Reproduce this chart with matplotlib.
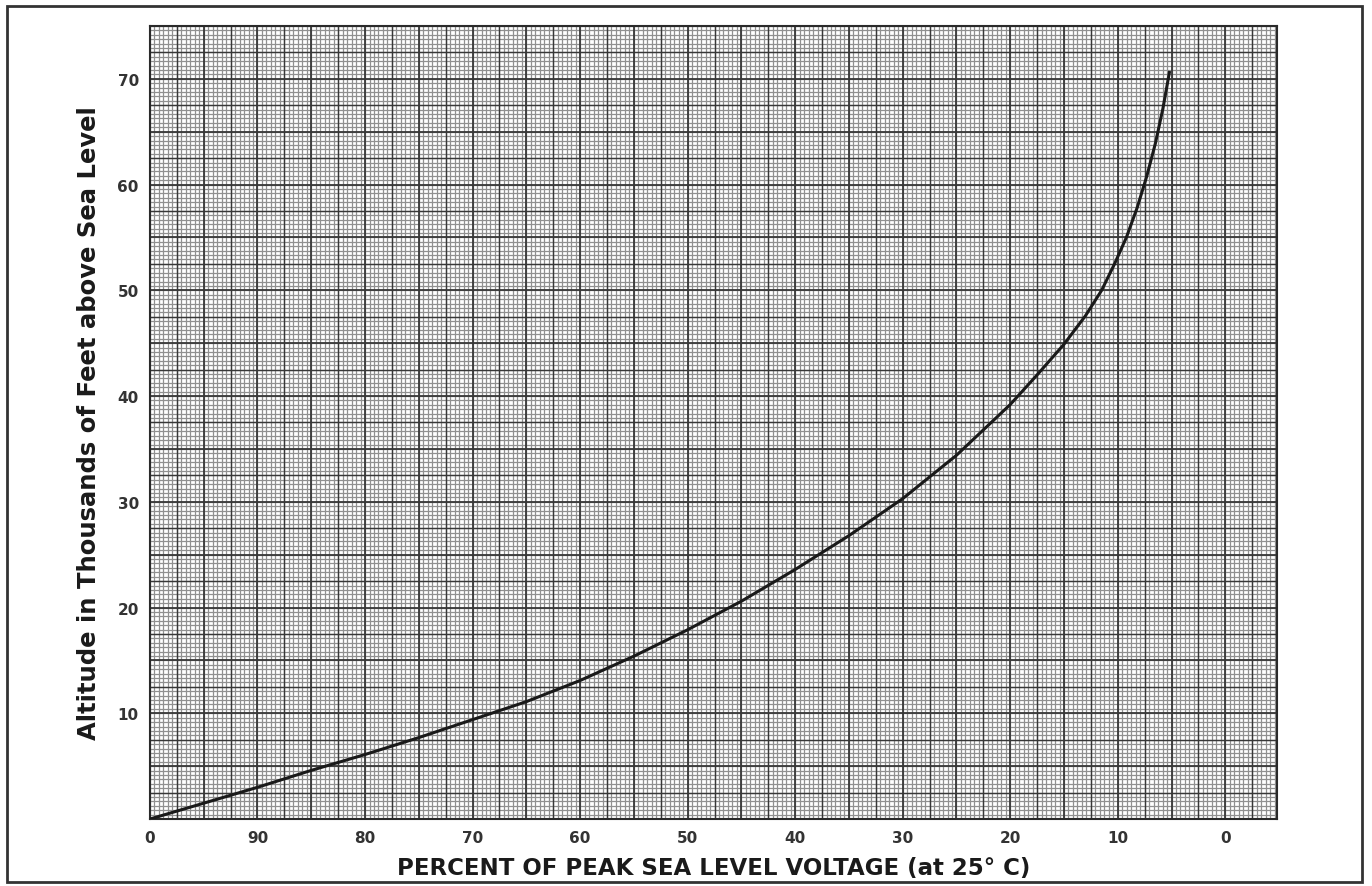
import matplotlib

matplotlib.use("Agg")
import matplotlib.pyplot as plt
import numpy as np
from matplotlib.patches import Rectangle

INK = "#1a1a1a"

# curve: percent of peak voltage vs altitude (thousands of ft)
percent = [100, 95, 90, 85, 80, 75, 70, 65, 60, 55, 50, 45, 40, 35, 30,
           25, 20, 17.5, 15, 13, 11.5, 10.3, 9.2, 8.2, 7.3, 6.5, 5.8, 5.2]
altitude = [0, 1.5, 3.0, 4.6, 6.1, 7.7, 9.4, 11.1, 13.1, 15.4, 17.9, 20.6, 23.6,
            26.8, 30.3, 34.4, 39.2, 42.0, 44.9, 47.6, 50.0, 52.5, 55.0, 57.8,
            60.8, 63.9, 67.2, 70.6]

x_ticks = [100, 90, 80, 70, 60, 50, 40, 30, 20, 10, 0]
x_ticklabels = ["0", "90", "80", "70", "60", "50", "40", "30", "20", "10", "0"]
y_ticks = [10, 20, 30, 40, 50, 60, 70]

fig = plt.figure(figsize=(13.72, 8.87), dpi=100)
ax = fig.add_axes([0.1093, 0.0755, 0.8214, 0.8941])
ax.set_xlim(100, -4.8)
ax.set_ylim(0, 75)

# graph paper
fine = 2.5 / 6
for v in np.arange(-4.8 // fine * fine, 100 + 1e-6, fine):
    ax.axvline(v, color="#909090", lw=0.9, zorder=1)
for v in np.arange(0, 75 + 1e-6, fine):
    ax.axhline(v, color="#909090", lw=0.9, zorder=1)
for v in np.arange(-2.5, 100 + 1e-6, 2.5):
    heavy = abs(v / 5 - round(v / 5)) < 1e-6
    ax.axvline(v, color="#383838", lw=1.3 if heavy else 1.0, zorder=2)
for v in np.arange(0, 75 + 1e-6, 2.5):
    heavy = abs(v / 5 - round(v / 5)) < 1e-6
    ax.axhline(v, color="#383838", lw=1.3 if heavy else 1.0, zorder=2)

ax.plot(percent, altitude, color=INK, lw=2.2, zorder=3)

ax.set_xticks(x_ticks)
ax.set_xticklabels(x_ticklabels)
ax.set_yticks(y_ticks)
ax.tick_params(length=0, labelsize=11, labelcolor="#333333", pad=8)
for lab in ax.get_xticklabels() + ax.get_yticklabels():
    lab.set_fontweight("bold")
for s in ax.spines.values():
    s.set_color("#2a2a2a")
    s.set_linewidth(1.5)

ax.set_xlabel("PERCENT OF PEAK SEA LEVEL VOLTAGE (at 25° C)", fontsize=16.5,
              fontweight="bold", color=INK, labelpad=8)
ax.set_ylabel("Altitude in Thousands of Feet above Sea Level", fontsize=17.5,
              fontweight="bold", color=INK, labelpad=12)

# outer frame of the page
fig.patches.append(Rectangle((0.005, 0.004), 0.988, 0.988, transform=fig.transFigure,
                             fill=False, edgecolor="#333333", lw=2))

fig.savefig("out.png", dpi=100, facecolor="white")
